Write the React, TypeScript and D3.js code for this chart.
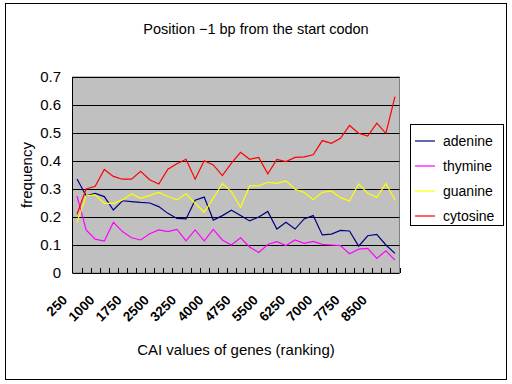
import * as d3 from "d3";

const categories = d3.range(250, 9001, 250).map(String);
const tickLabels = ["250", "1000", "1750", "2500", "3250", "4000", "4750", "5500", "6250", "7000", "7750", "8500"];
const yTicks = [0, 0.1, 0.2, 0.3, 0.4, 0.5, 0.6, 0.7];

const adenine = [0.336, 0.276, 0.284, 0.273, 0.225, 0.258, 0.255, 0.252, 0.25, 0.237, 0.213, 0.195, 0.193, 0.26, 0.271, 0.189, 0.205, 0.224, 0.205, 0.186, 0.2, 0.22, 0.157, 0.181, 0.157, 0.193, 0.205, 0.136, 0.139, 0.152, 0.15, 0.096, 0.133, 0.138, 0.1, 0.07];
const thymine = [0.275, 0.154, 0.121, 0.114, 0.181, 0.148, 0.126, 0.118, 0.14, 0.154, 0.148, 0.156, 0.115, 0.154, 0.115, 0.156, 0.118, 0.1, 0.126, 0.093, 0.073, 0.102, 0.112, 0.098, 0.118, 0.106, 0.113, 0.102, 0.1, 0.098, 0.069, 0.085, 0.088, 0.052, 0.079, 0.046];
const guanine = [0.181, 0.276, 0.279, 0.249, 0.249, 0.261, 0.283, 0.267, 0.277, 0.288, 0.273, 0.261, 0.283, 0.249, 0.217, 0.267, 0.32, 0.29, 0.235, 0.311, 0.311, 0.324, 0.32, 0.329, 0.299, 0.288, 0.262, 0.288, 0.293, 0.269, 0.257, 0.318, 0.285, 0.27, 0.32, 0.261];
const cytosine = [0.21, 0.3, 0.31, 0.37, 0.345, 0.335, 0.335, 0.363, 0.333, 0.318, 0.371, 0.39, 0.406, 0.335, 0.401, 0.386, 0.348, 0.392, 0.431, 0.406, 0.413, 0.354, 0.406, 0.398, 0.413, 0.415, 0.422, 0.473, 0.463, 0.481, 0.527, 0.499, 0.489, 0.535, 0.499, 0.63];

const series = [
  { name: "adenine", values: adenine, color: "#000080" },
  { name: "thymine", values: thymine, color: "#ff00ff" },
  { name: "guanine", values: guanine, color: "#ffff00" },
  { name: "cytosine", values: cytosine, color: "#ff0000" },
];

const font = "'Liberation Sans', Arial, sans-serif";

export default function App() {
  const left = 72.5, right = 399.5, top = 77, bottom = 273;
  const x = d3.scaleBand<string>().domain(categories).range([left, right]);
  const y = d3.scaleLinear().domain([0, 0.7]).range([bottom, top]);

  const line = d3
    .line<number>()
    .x((_, i) => (x(categories[i]) ?? 0) + x.bandwidth() / 2)
    .y((d) => y(d));

  return (
    <svg
      width={512}
      height={384}
      style={{ position: "absolute", left: 0, top: 0, background: "#fff" }}
      fontFamily={font}
    >
      <rect x={5.5} y={3.5} width={501} height={376} fill="#fff" stroke="#000" />
      <text x={256} y={34} textAnchor="middle" fontSize={14.5}>
        Position −1 bp from the start codon
      </text>

      {/* plot area */}
      <rect x={left} y={top} width={right - left} height={bottom - top} fill="#c0c0c0" stroke="#808080" />
      {yTicks.slice(1).map((t) => (
        <line key={t} x1={left} x2={right} y1={Math.round(y(t)) + 0.5} y2={Math.round(y(t)) + 0.5} stroke="#000" />
      ))}
      {yTicks.map((t) => (
        <text key={t} x={61} y={y(t) + 5} textAnchor="end" fontSize={15}>
          {t === 0 ? "0" : t.toFixed(1)}
        </text>
      ))}
      <text transform={`translate(32,${(top + bottom) / 2}) rotate(-90)`} textAnchor="middle" fontSize={15}>
        frequency
      </text>

      {/* x ticks inside the plot */}
      {categories.map((c) => {
        const tx = Math.round((x(c) ?? 0) + x.bandwidth()) + 0.5;
        return <line key={c} x1={tx} x2={tx} y1={bottom} y2={bottom - 5} stroke="#000" />;
      })}
      <line x1={left} x2={left} y1={top} y2={bottom} stroke="#000" />
      <line x1={left} x2={right} y1={bottom + 0.5} y2={bottom + 0.5} stroke="#000" />

      {series.map((s) => (
        <path key={s.name} d={line(s.values) ?? ""} fill="none" stroke={s.color} strokeWidth={1.2} />
      ))}

      {tickLabels.map((l) => {
        const cx = (x(l) ?? 0) + x.bandwidth() / 2;
        return (
          <text
            key={l}
            transform={`translate(${cx - 9},${bottom + 28}) rotate(-45)`}
            textAnchor="end"
            fontSize={13.5}
            fontWeight="bold"
          >
            {l}
          </text>
        );
      })}
      <text x={(left + right) / 2} y={355} textAnchor="middle" fontSize={15}>
        CAI values of genes (ranking)
      </text>

      {/* legend */}
      <rect x={410.5} y={124.5} width={93} height={101} fill="#fff" stroke="#000" />
      {series.map((s, i) => {
        const ly = 141 + i * 25;
        return (
          <g key={s.name}>
            <line x1={415} x2={435} y1={ly} y2={ly} stroke={s.color} strokeWidth={1.2} />
            <text x={443} y={ly + 5} fontSize={14}>
              {s.name}
            </text>
          </g>
        );
      })}
    </svg>
  );
}
